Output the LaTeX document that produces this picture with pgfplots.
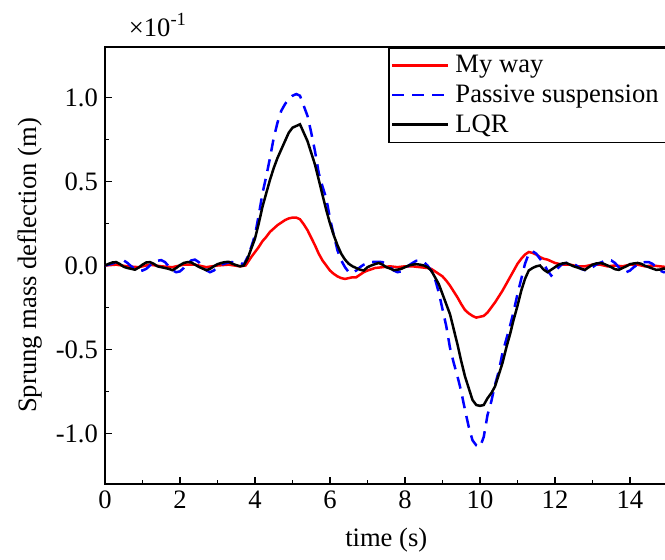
\documentclass[border=0pt]{standalone}
\usepackage{fontspec}
\setmainfont{Liberation Serif}
\usepackage{pgfplots}
\pgfplotsset{compat=1.18}
\begin{document}
\begin{tikzpicture}[font=\fontsize{13.3}{16}\selectfont]
\begin{axis}[
  name=ax,
  scale only axis,
  width=281.25pt, height=218.5pt,
  xmin=0, xmax=15, ymin=-1.3, ymax=1.3,
  axis line style={line width=1pt},
  xtick={0,2,4,6,8,10,12,14},
  xticklabels={0,2,4,6,8,10,12,14},
  ytick={-1,-0.5,0,0.5,1},
  yticklabels={-1.0,-0.5,0.0,0.5,1.0},
  minor x tick num=1, minor y tick num=1,
  tick align=inside,
  xtick pos=bottom, ytick pos=left,
  major tick length=3.5pt, minor tick length=2pt,
  tick style={line width=0.9pt, black},
  xlabel={time (s)},
  xlabel style={yshift=-2.5pt},
  ylabel={Sprung mass deflection (m)},
  legend cell align=left,
  legend style={at={(1,1)}, anchor=north east, draw=black, line width=0.8pt,
    inner xsep=1pt, inner ysep=1.8pt, row sep=0.5pt,
    nodes={inner xsep=3pt}},
  legend image code/.code={\draw[#1] (0pt,0pt) -- (28pt,0pt);},
]
\addplot[red, line width=1.25pt] coordinates {
(0,0) (0.3,0.005) (0.6,-0.005) (0.9,-0.01) (1.2,0.005) (1.5,-0.005) (1.8,-0.01) (2.1,0.005) (2.4,0.005) (2.7,-0.01) (3.0,0) (3.3,0.005) (3.6,-0.005) (3.75,0)
(3.9,0.05) (4.0,0.08) (4.1,0.11) (4.2,0.145) (4.3,0.17) (4.4,0.20) (4.5,0.22) (4.6,0.24) (4.7,0.255) (4.8,0.27) (4.9,0.28) (5.0,0.285) (5.1,0.285) (5.2,0.275) (5.3,0.245) (5.4,0.21) (5.5,0.165) (5.6,0.12) (5.7,0.07) (5.8,0.03) (5.9,0.0) (6.0,-0.03) (6.1,-0.05) (6.2,-0.065) (6.3,-0.075) (6.4,-0.08) (6.5,-0.075) (6.6,-0.07) (6.7,-0.07) (6.8,-0.055) (6.9,-0.04) (7.0,-0.03) (7.2,-0.015) (7.4,-0.01) (7.6,-0.005) (7.8,-0.01) (8.0,-0.005) (8.2,-0.005) (8.4,-0.01) (8.6,-0.015) (8.7,-0.02) (8.8,-0.035) (8.9,-0.05) (9.0,-0.065) (9.1,-0.09) (9.2,-0.12) (9.3,-0.155) (9.4,-0.19) (9.5,-0.23) (9.6,-0.265) (9.7,-0.285) (9.8,-0.30) (9.9,-0.31) (10.0,-0.305) (10.1,-0.30) (10.2,-0.28) (10.3,-0.25) (10.4,-0.22) (10.5,-0.185) (10.6,-0.15) (10.7,-0.11) (10.8,-0.07) (10.9,-0.03) (11.0,0.01) (11.1,0.04) (11.2,0.065) (11.3,0.08) (11.4,0.075) (11.5,0.065) (11.6,0.05) (11.7,0.04) (11.8,0.035) (11.9,0.025) (12.0,0.015) (12.2,0.005) (12.4,0.005) (12.6,-0.005) (12.8,-0.005) (13.0,0.005) (13.2,0.005) (13.4,-0.005) (13.6,0) (13.8,-0.005) (14.0,0.005) (14.2,0.005) (14.4,-0.005) (14.6,0) (14.8,-0.005) (15.0,-0.01)
};
\addlegendentry{My way}
\addplot[blue, line width=1.25pt, dash pattern=on 6pt off 4pt] coordinates {
(0.0,0.000) (0.1,0.005) (0.2,0.012) (0.3,0.020) (0.4,0.028) (0.5,0.030) (0.6,0.015) (0.7,-0.005) (0.8,-0.020) (0.9,-0.028) (1.0,-0.030) (1.1,-0.020) (1.2,0.000) (1.3,0.018) (1.4,0.028) (1.5,0.032) (1.6,0.020) (1.7,-0.005) (1.8,-0.028) (1.9,-0.040) (2.0,-0.035) (2.1,-0.015) (2.2,0.010) (2.3,0.030) (2.4,0.035) (2.5,0.020) (2.6,-0.005) (2.7,-0.028) (2.8,-0.040) (2.9,-0.030) (3.0,-0.010) (3.1,0.005) (3.2,0.012) (3.3,0.018) (3.4,0.020) (3.5,0.022) (3.6,0.018) (3.7,0.005)
(3.8,0.05) (3.9,0.11) (4.0,0.18) (4.1,0.30) (4.2,0.43) (4.3,0.53) (4.4,0.64) (4.5,0.76) (4.6,0.85) (4.7,0.92) (4.8,0.96) (4.9,0.99) (5.0,1.01) (5.1,1.02) (5.2,1.01) (5.3,0.95) (5.4,0.89) (5.5,0.79) (5.6,0.68) (5.7,0.55) (5.8,0.47) (5.9,0.40) (6.0,0.28) (6.1,0.18) (6.2,0.09) (6.3,0.03) (6.4,-0.01) (6.5,-0.04) (6.6,-0.045) (6.7,-0.030) (6.8,-0.010) (6.9,0.005) (7.0,0.015) (7.1,0.020) (7.2,0.022) (7.3,0.022) (7.4,0.020) (7.5,0.010) (7.6,-0.010) (7.7,-0.030) (7.8,-0.040) (7.9,-0.035) (8.0,-0.020) (8.1,0.000) (8.2,0.015) (8.3,0.028) (8.4,0.030) (8.5,0.020) (8.6,0.000)
(8.7,-0.03) (8.8,-0.08) (8.9,-0.16) (9.0,-0.26) (9.1,-0.36) (9.2,-0.49) (9.3,-0.58) (9.4,-0.66) (9.5,-0.75) (9.6,-0.86) (9.7,-0.96) (9.8,-1.04) (9.9,-1.07) (10.0,-1.08) (10.1,-1.02) (10.2,-0.89) (10.3,-0.81) (10.4,-0.71) (10.5,-0.63) (10.6,-0.52) (10.7,-0.44) (10.8,-0.36) (10.9,-0.27) (11.0,-0.17) (11.1,-0.08) (11.2,0.01) (11.3,0.07) (11.4,0.085) (11.5,0.07) (11.6,0.04) (11.7,0.01) (11.8,-0.03) (11.9,-0.06) (12.0,-0.04) (12.1,-0.01)
(12.2,0.010) (12.3,0.015) (12.4,0.015) (12.5,0.010) (12.6,-0.005) (12.7,-0.020) (12.8,-0.028) (12.9,-0.025) (13.0,-0.010) (13.1,0.005) (13.2,0.015) (13.3,0.025) (13.4,0.030) (13.5,0.030) (13.6,0.015) (13.7,-0.010) (13.8,-0.035) (13.9,-0.040) (14.0,-0.030) (14.1,-0.010) (14.2,0.005) (14.3,0.015) (14.4,0.020) (14.5,0.020) (14.6,0.010) (14.7,-0.010) (14.8,-0.030) (14.9,-0.040) (15.0,-0.035)
};
\addlegendentry{Passive suspension}
\addplot[black, line width=1.25pt] coordinates {
(0.0,0.000) (0.1,0.010) (0.2,0.018) (0.3,0.020) (0.4,0.008) (0.5,-0.008) (0.6,-0.015) (0.7,-0.020) (0.8,-0.025) (0.9,-0.012) (1.0,0.005) (1.1,0.018) (1.2,0.020) (1.3,0.010) (1.4,-0.005) (1.5,-0.010) (1.6,-0.015) (1.7,-0.020) (1.8,-0.028) (1.9,-0.015) (2.0,0.002) (2.1,0.015) (2.2,0.020) (2.3,0.018) (2.4,0.005) (2.5,-0.008) (2.6,-0.018) (2.7,-0.028) (2.8,-0.020) (2.9,-0.005) (3.0,0.008) (3.1,0.015) (3.2,0.020) (3.3,0.022) (3.4,0.010) (3.5,0.002) (3.6,-0.005) (3.7,0.000)
(3.8,0.04) (3.9,0.10) (4.0,0.16) (4.1,0.25) (4.2,0.35) (4.3,0.43) (4.4,0.51) (4.5,0.58) (4.6,0.64) (4.7,0.69) (4.8,0.74) (4.9,0.79) (5.0,0.82) (5.1,0.83) (5.2,0.84) (5.3,0.79) (5.4,0.74) (5.5,0.67) (5.6,0.60) (5.7,0.51) (5.8,0.42) (5.9,0.33) (6.0,0.25) (6.1,0.18) (6.2,0.12) (6.3,0.07) (6.4,0.035) (6.5,0.01) (6.6,-0.005) (6.7,-0.015) (6.8,-0.025) (6.9,-0.030) (7.0,-0.010) (7.1,0.000) (7.2,0.008) (7.3,0.015) (7.4,0.005) (7.5,-0.010) (7.6,-0.018) (7.7,-0.028) (7.8,-0.025) (7.9,-0.020) (8.0,-0.010) (8.1,0.000) (8.2,0.005) (8.3,0.008) (8.4,0.005) (8.5,0.000) (8.6,-0.010)
(8.7,-0.03) (8.8,-0.07) (8.9,-0.11) (9.0,-0.17) (9.1,-0.23) (9.2,-0.29) (9.3,-0.38) (9.4,-0.47) (9.5,-0.57) (9.6,-0.66) (9.7,-0.73) (9.8,-0.80) (9.9,-0.83) (10.0,-0.835) (10.1,-0.83) (10.2,-0.79) (10.3,-0.76) (10.4,-0.72) (10.5,-0.65) (10.6,-0.58) (10.7,-0.49) (10.8,-0.41) (10.9,-0.32) (11.0,-0.24) (11.1,-0.15) (11.2,-0.08) (11.3,-0.03) (11.4,-0.015) (11.5,-0.005) (11.6,0.000) (11.7,-0.025) (11.8,-0.040) (11.9,-0.025) (12.0,-0.010)
(12.1,0.005) (12.2,0.012) (12.3,0.015) (12.4,0.005) (12.5,-0.005) (12.6,-0.012) (12.7,-0.020) (12.8,-0.026) (12.9,-0.010) (13.0,0.005) (13.1,0.012) (13.2,0.015) (13.3,0.010) (13.4,0.000) (13.5,-0.010) (13.6,-0.022) (13.7,-0.026) (13.8,-0.015) (13.9,-0.005) (14.0,0.008) (14.1,0.012) (14.2,0.015) (14.3,0.010) (14.4,-0.002) (14.5,-0.010) (14.6,-0.018) (14.7,-0.026) (14.8,-0.024) (14.9,-0.018) (15.0,-0.022)
};
\addlegendentry{LQR}
\end{axis}
\node[anchor=center] at ([xshift=26.5pt,yshift=11pt]ax.north west) {×10\textsuperscript{-1}};
\pgfresetboundingbox
\path[use as bounding box] (-52.5pt,-38pt) rectangle (280pt,242pt);
\end{tikzpicture}
\end{document}
